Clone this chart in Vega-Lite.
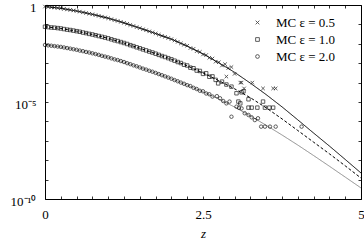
{
"$schema":"https://vega.github.io/schema/vega-lite/v6.json",
"width":316,"height":194,
"autosize":{"type":"none"},
"padding":{"left":45,"top":5,"right":3,"bottom":42},
"config":{"view":{"stroke":null},"font":"Liberation Serif",
"axis":{"domainColor":"black","tickColor":"black","labelColor":"black","titleColor":"black","labelFont":"Liberation Serif","titleFont":"Liberation Serif","labelFontSize":13,"titleFontSize":13,"grid":false,"tickSize":-3,"domainWidth":1,"tickWidth":0.8}},
"datasets":{
"curves":[
{"e":"0.5","z":0,"p":0.8318},{"e":"0.5","z":0.25,"p":0.6761},{"e":"0.5","z":0.5,"p":0.4898},{"e":"0.5","z":0.75,"p":0.3311},{"e":"0.5","z":1,"p":0.2089},{"e":"0.5","z":1.25,"p":0.1202},{"e":"0.5","z":1.5,"p":0.06457},{"e":"0.5","z":1.75,"p":0.03388},{"e":"0.5","z":2,"p":0.01738},{"e":"0.5","z":2.25,"p":0.007586},{"e":"0.5","z":2.5,"p":0.00302},{"e":"0.5","z":2.75,"p":0.001047},{"e":"0.5","z":3,"p":3.388e-4},{"e":"0.5","z":3.25,"p":9.333e-5},{"e":"0.5","z":3.5,"p":2.399e-5},{"e":"0.5","z":3.75,"p":5.623e-6},{"e":"0.5","z":4,"p":1.202e-6},{"e":"0.5","z":4.25,"p":2.512e-7},{"e":"0.5","z":4.5,"p":5.37e-8},{"e":"0.5","z":4.75,"p":1.096e-8},{"e":"0.5","z":5,"p":2.188e-9},
{"e":"1.0","z":0,"p":0.07586},{"e":"1.0","z":0.25,"p":0.06166},{"e":"1.0","z":0.5,"p":0.04467},{"e":"1.0","z":0.75,"p":0.0302},{"e":"1.0","z":1,"p":0.01905},{"e":"1.0","z":1.25,"p":0.01096},{"e":"1.0","z":1.5,"p":0.005888},{"e":"1.0","z":1.75,"p":0.00309},{"e":"1.0","z":2,"p":0.001585},{"e":"1.0","z":2.25,"p":7.244e-4},{"e":"1.0","z":2.5,"p":3.162e-4},{"e":"1.0","z":2.75,"p":1.259e-4},{"e":"1.0","z":3,"p":4.786e-5},{"e":"1.0","z":3.25,"p":1.66e-5},{"e":"1.0","z":3.5,"p":5.012e-6},{"e":"1.0","z":3.75,"p":1.349e-6},{"e":"1.0","z":4,"p":3.388e-7},{"e":"1.0","z":4.25,"p":8.511e-8},{"e":"1.0","z":4.5,"p":2.138e-8},{"e":"1.0","z":4.75,"p":5.129e-9},{"e":"1.0","z":5,"p":1.202e-9},
{"e":"2.0","z":0,"p":0.00871},{"e":"2.0","z":0.25,"p":0.006918},{"e":"2.0","z":0.5,"p":0.004898},{"e":"2.0","z":0.75,"p":0.003236},{"e":"2.0","z":1,"p":0.001995},{"e":"2.0","z":1.25,"p":0.001148},{"e":"2.0","z":1.5,"p":6.026e-4},{"e":"2.0","z":1.75,"p":3.162e-4},{"e":"2.0","z":2,"p":1.585e-4},{"e":"2.0","z":2.25,"p":7.413e-5},{"e":"2.0","z":2.5,"p":3.388e-5},{"e":"2.0","z":2.75,"p":1.413e-5},{"e":"2.0","z":3,"p":5.495e-6},{"e":"2.0","z":3.25,"p":1.905e-6},{"e":"2.0","z":3.5,"p":6.31e-7},{"e":"2.0","z":3.75,"p":1.995e-7},{"e":"2.0","z":4,"p":6.026e-8},{"e":"2.0","z":4.25,"p":1.738e-8},{"e":"2.0","z":4.5,"p":4.898e-9},{"e":"2.0","z":4.75,"p":1.349e-9},{"e":"2.0","z":5,"p":3.715e-10}
],
"mc":[
{"s":"MC ε = 0.5","z":0,"p":0.832},{"s":"MC ε = 0.5","z":0.05,"p":0.794},{"s":"MC ε = 0.5","z":0.1,"p":0.759},{"s":"MC ε = 0.5","z":0.15,"p":0.741},{"s":"MC ε = 0.5","z":0.2,"p":0.708},{"s":"MC ε = 0.5","z":0.25,"p":0.676},{"s":"MC ε = 0.5","z":0.3,"p":0.631},{"s":"MC ε = 0.5","z":0.35,"p":0.589},{"s":"MC ε = 0.5","z":0.4,"p":0.562},{"s":"MC ε = 0.5","z":0.45,"p":0.525},{"s":"MC ε = 0.5","z":0.5,"p":0.49},{"s":"MC ε = 0.5","z":0.55,"p":0.457},{"s":"MC ε = 0.5","z":0.6,"p":0.417},{"s":"MC ε = 0.5","z":0.65,"p":0.389},{"s":"MC ε = 0.5","z":0.7,"p":0.355},{"s":"MC ε = 0.5","z":0.75,"p":0.331},{"s":"MC ε = 0.5","z":0.8,"p":0.302},{"s":"MC ε = 0.5","z":0.85,"p":0.275},{"s":"MC ε = 0.5","z":0.9,"p":0.251},{"s":"MC ε = 0.5","z":0.95,"p":0.229},{"s":"MC ε = 0.5","z":1,"p":0.209},{"s":"MC ε = 0.5","z":1.05,"p":0.186},{"s":"MC ε = 0.5","z":1.1,"p":0.166},{"s":"MC ε = 0.5","z":1.15,"p":0.151},{"s":"MC ε = 0.5","z":1.2,"p":0.135},{"s":"MC ε = 0.5","z":1.25,"p":0.12},{"s":"MC ε = 0.5","z":1.3,"p":0.107},{"s":"MC ε = 0.5","z":1.35,"p":0.0933},{"s":"MC ε = 0.5","z":1.4,"p":0.0832},{"s":"MC ε = 0.5","z":1.45,"p":0.0724},{"s":"MC ε = 0.5","z":1.5,"p":0.0646},{"s":"MC ε = 0.5","z":1.55,"p":0.0562},{"s":"MC ε = 0.5","z":1.6,"p":0.0501},{"s":"MC ε = 0.5","z":1.65,"p":0.0437},{"s":"MC ε = 0.5","z":1.7,"p":0.0389},{"s":"MC ε = 0.5","z":1.75,"p":0.0339},{"s":"MC ε = 0.5","z":1.8,"p":0.0295},{"s":"MC ε = 0.5","z":1.85,"p":0.0257},{"s":"MC ε = 0.5","z":1.9,"p":0.0229},{"s":"MC ε = 0.5","z":1.95,"p":0.02},{"s":"MC ε = 0.5","z":2,"p":0.0174},{"s":"MC ε = 0.5","z":2.05,"p":0.0148},{"s":"MC ε = 0.5","z":2.1,"p":0.0126},{"s":"MC ε = 0.5","z":2.15,"p":0.0105},{"s":"MC ε = 0.5","z":2.2,"p":0.00891},{"s":"MC ε = 0.5","z":2.25,"p":0.00794},{"s":"MC ε = 0.5","z":2.3,"p":0.00603},{"s":"MC ε = 0.5","z":2.35,"p":0.0055},{"s":"MC ε = 0.5","z":2.4,"p":0.00417},{"s":"MC ε = 0.5","z":2.45,"p":0.0038},{"s":"MC ε = 0.5","z":2.5,"p":0.00282},{"s":"MC ε = 0.5","z":2.55,"p":0.00263},{"s":"MC ε = 0.5","z":2.6,"p":0.00191},{"s":"MC ε = 0.5","z":2.65,"p":0.00174},{"s":"MC ε = 0.5","z":2.7,"p":0.0012},{"s":"MC ε = 0.5","z":2.75,"p":0.00112},{"s":"MC ε = 0.5","z":2.8,"p":7.59e-4},{"s":"MC ε = 0.5","z":2.85,"p":8.91e-4},{"s":"MC ε = 0.5","z":2.9,"p":5.62e-4},{"s":"MC ε = 0.5","z":2.95,"p":6.31e-4},{"s":"MC ε = 0.5","z":3.0,"p":2.82e-4},{"s":"MC ε = 0.5","z":2.87,"p":2.04e-4},{"s":"MC ε = 0.5","z":3.09,"p":1.0e-4},{"s":"MC ε = 0.5","z":3.11,"p":1.0e-4},{"s":"MC ε = 0.5","z":3.15,"p":5.01e-5},{"s":"MC ε = 0.5","z":3.28,"p":1.0e-4},{"s":"MC ε = 0.5","z":3.45,"p":5.01e-5},{"s":"MC ε = 0.5","z":3.61,"p":5.01e-5},{"s":"MC ε = 0.5","z":3.65,"p":5.01e-5},
{"s":"MC ε = 1.0","z":0,"p":0.0759},{"s":"MC ε = 1.0","z":0.05,"p":0.0724},{"s":"MC ε = 1.0","z":0.1,"p":0.0692},{"s":"MC ε = 1.0","z":0.15,"p":0.0676},{"s":"MC ε = 1.0","z":0.2,"p":0.0646},{"s":"MC ε = 1.0","z":0.25,"p":0.0617},{"s":"MC ε = 1.0","z":0.3,"p":0.0575},{"s":"MC ε = 1.0","z":0.35,"p":0.0537},{"s":"MC ε = 1.0","z":0.4,"p":0.0513},{"s":"MC ε = 1.0","z":0.45,"p":0.0479},{"s":"MC ε = 1.0","z":0.5,"p":0.0447},{"s":"MC ε = 1.0","z":0.55,"p":0.0417},{"s":"MC ε = 1.0","z":0.6,"p":0.038},{"s":"MC ε = 1.0","z":0.65,"p":0.0355},{"s":"MC ε = 1.0","z":0.7,"p":0.0324},{"s":"MC ε = 1.0","z":0.75,"p":0.0302},{"s":"MC ε = 1.0","z":0.8,"p":0.0275},{"s":"MC ε = 1.0","z":0.85,"p":0.0251},{"s":"MC ε = 1.0","z":0.9,"p":0.0229},{"s":"MC ε = 1.0","z":0.95,"p":0.0209},{"s":"MC ε = 1.0","z":1,"p":0.0191},{"s":"MC ε = 1.0","z":1.05,"p":0.017},{"s":"MC ε = 1.0","z":1.1,"p":0.0151},{"s":"MC ε = 1.0","z":1.15,"p":0.0138},{"s":"MC ε = 1.0","z":1.2,"p":0.0123},{"s":"MC ε = 1.0","z":1.25,"p":0.011},{"s":"MC ε = 1.0","z":1.3,"p":0.00977},{"s":"MC ε = 1.0","z":1.35,"p":0.00851},{"s":"MC ε = 1.0","z":1.4,"p":0.00759},{"s":"MC ε = 1.0","z":1.45,"p":0.00661},{"s":"MC ε = 1.0","z":1.5,"p":0.00589},{"s":"MC ε = 1.0","z":1.55,"p":0.00513},{"s":"MC ε = 1.0","z":1.6,"p":0.00457},{"s":"MC ε = 1.0","z":1.65,"p":0.00398},{"s":"MC ε = 1.0","z":1.7,"p":0.00355},{"s":"MC ε = 1.0","z":1.75,"p":0.00309},{"s":"MC ε = 1.0","z":1.8,"p":0.00269},{"s":"MC ε = 1.0","z":1.85,"p":0.00234},{"s":"MC ε = 1.0","z":1.9,"p":0.00209},{"s":"MC ε = 1.0","z":1.95,"p":0.00182},{"s":"MC ε = 1.0","z":2,"p":0.00158},{"s":"MC ε = 1.0","z":2.05,"p":0.00135},{"s":"MC ε = 1.0","z":2.1,"p":0.00115},{"s":"MC ε = 1.0","z":2.15,"p":0.00102},{"s":"MC ε = 1.0","z":2.2,"p":8.32e-4},{"s":"MC ε = 1.0","z":2.25,"p":7.59e-4},{"s":"MC ε = 1.0","z":2.3,"p":5.89e-4},{"s":"MC ε = 1.0","z":2.35,"p":5.5e-4},{"s":"MC ε = 1.0","z":2.4,"p":4.17e-4},{"s":"MC ε = 1.0","z":2.45,"p":3.98e-4},{"s":"MC ε = 1.0","z":2.5,"p":2.82e-4},{"s":"MC ε = 1.0","z":2.55,"p":3.02e-4},{"s":"MC ε = 1.0","z":2.6,"p":2.0e-4},{"s":"MC ε = 1.0","z":2.65,"p":2.09e-4},{"s":"MC ε = 1.0","z":2.7,"p":1.38e-4},{"s":"MC ε = 1.0","z":2.74,"p":9.12e-5},{"s":"MC ε = 1.0","z":2.8,"p":1.12e-4},{"s":"MC ε = 1.0","z":2.87,"p":7.94e-5},{"s":"MC ε = 1.0","z":2.95,"p":6.17e-5},{"s":"MC ε = 1.0","z":3.03,"p":2.82e-5},{"s":"MC ε = 1.0","z":3.11,"p":3.16e-5},{"s":"MC ε = 1.0","z":3.14,"p":3.55e-5},{"s":"MC ε = 1.0","z":3.06,"p":1.05e-5},{"s":"MC ε = 1.0","z":3.09,"p":8.51e-6},{"s":"MC ε = 1.0","z":3.22,"p":1.38e-5},{"s":"MC ε = 1.0","z":3.45,"p":1.05e-5},{"s":"MC ε = 1.0","z":3.22,"p":5.13e-6},{"s":"MC ε = 1.0","z":3.27,"p":5.13e-6},{"s":"MC ε = 1.0","z":3.36,"p":5.13e-6},{"s":"MC ε = 1.0","z":3.48,"p":5.13e-6},{"s":"MC ε = 1.0","z":3.55,"p":5.13e-6},{"s":"MC ε = 1.0","z":3.61,"p":5.13e-6},
{"s":"MC ε = 2.0","z":0,"p":0.00871},{"s":"MC ε = 2.0","z":0.05,"p":0.00832},{"s":"MC ε = 2.0","z":0.1,"p":0.00794},{"s":"MC ε = 2.0","z":0.15,"p":0.00759},{"s":"MC ε = 2.0","z":0.2,"p":0.00724},{"s":"MC ε = 2.0","z":0.25,"p":0.00692},{"s":"MC ε = 2.0","z":0.3,"p":0.00646},{"s":"MC ε = 2.0","z":0.35,"p":0.00603},{"s":"MC ε = 2.0","z":0.4,"p":0.00562},{"s":"MC ε = 2.0","z":0.45,"p":0.00525},{"s":"MC ε = 2.0","z":0.5,"p":0.0049},{"s":"MC ε = 2.0","z":0.55,"p":0.00447},{"s":"MC ε = 2.0","z":0.6,"p":0.00417},{"s":"MC ε = 2.0","z":0.65,"p":0.0038},{"s":"MC ε = 2.0","z":0.7,"p":0.00355},{"s":"MC ε = 2.0","z":0.75,"p":0.00324},{"s":"MC ε = 2.0","z":0.8,"p":0.00295},{"s":"MC ε = 2.0","z":0.85,"p":0.00269},{"s":"MC ε = 2.0","z":0.9,"p":0.0024},{"s":"MC ε = 2.0","z":0.95,"p":0.00219},{"s":"MC ε = 2.0","z":1,"p":0.002},{"s":"MC ε = 2.0","z":1.05,"p":0.00178},{"s":"MC ε = 2.0","z":1.1,"p":0.00158},{"s":"MC ε = 2.0","z":1.15,"p":0.00145},{"s":"MC ε = 2.0","z":1.2,"p":0.00129},{"s":"MC ε = 2.0","z":1.25,"p":0.00115},{"s":"MC ε = 2.0","z":1.3,"p":0.001},{"s":"MC ε = 2.0","z":1.35,"p":8.91e-4},{"s":"MC ε = 2.0","z":1.4,"p":7.76e-4},{"s":"MC ε = 2.0","z":1.45,"p":6.92e-4},{"s":"MC ε = 2.0","z":1.5,"p":6.03e-4},{"s":"MC ε = 2.0","z":1.55,"p":5.25e-4},{"s":"MC ε = 2.0","z":1.6,"p":4.68e-4},{"s":"MC ε = 2.0","z":1.65,"p":4.07e-4},{"s":"MC ε = 2.0","z":1.7,"p":3.63e-4},{"s":"MC ε = 2.0","z":1.75,"p":3.16e-4},{"s":"MC ε = 2.0","z":1.8,"p":2.75e-4},{"s":"MC ε = 2.0","z":1.85,"p":2.4e-4},{"s":"MC ε = 2.0","z":1.9,"p":2.09e-4},{"s":"MC ε = 2.0","z":1.95,"p":1.82e-4},{"s":"MC ε = 2.0","z":2,"p":1.58e-4},{"s":"MC ε = 2.0","z":2.05,"p":1.35e-4},{"s":"MC ε = 2.0","z":2.1,"p":1.17e-4},{"s":"MC ε = 2.0","z":2.15,"p":1.0e-4},{"s":"MC ε = 2.0","z":2.2,"p":8.71e-5},{"s":"MC ε = 2.0","z":2.25,"p":7.41e-5},{"s":"MC ε = 2.0","z":2.3,"p":6.61e-5},{"s":"MC ε = 2.0","z":2.35,"p":5.37e-5},{"s":"MC ε = 2.0","z":2.4,"p":4.68e-5},{"s":"MC ε = 2.0","z":2.45,"p":3.8e-5},{"s":"MC ε = 2.0","z":2.5,"p":3.55e-5},{"s":"MC ε = 2.0","z":2.55,"p":2.75e-5},{"s":"MC ε = 2.0","z":2.6,"p":2.51e-5},{"s":"MC ε = 2.0","z":2.65,"p":1.91e-5},{"s":"MC ε = 2.0","z":2.72,"p":2.0e-5},{"s":"MC ε = 2.0","z":2.77,"p":1.55e-5},{"s":"MC ε = 2.0","z":2.82,"p":1.12e-5},{"s":"MC ε = 2.0","z":2.87,"p":8.51e-6},{"s":"MC ε = 2.0","z":2.92,"p":1.05e-5},{"s":"MC ε = 2.0","z":2.95,"p":1.74e-6},{"s":"MC ε = 2.0","z":3.03,"p":5.75e-6},{"s":"MC ε = 2.0","z":3.07,"p":5.01e-6},{"s":"MC ε = 2.0","z":3.11,"p":4.68e-6},{"s":"MC ε = 2.0","z":3.16,"p":2.63e-6},{"s":"MC ε = 2.0","z":3.22,"p":2.14e-6},{"s":"MC ε = 2.0","z":3.27,"p":1.62e-6},{"s":"MC ε = 2.0","z":3.32,"p":1.17e-6},{"s":"MC ε = 2.0","z":3.37,"p":1.45e-6},{"s":"MC ε = 2.0","z":3.42,"p":5.37e-7},{"s":"MC ε = 2.0","z":3.48,"p":5.37e-7},{"s":"MC ε = 2.0","z":3.56,"p":5.37e-7},{"s":"MC ε = 2.0","z":3.65,"p":5.37e-7},{"s":"MC ε = 2.0","z":4.06,"p":5.37e-7}
]},
"layer":[
{"data":{"name":"curves"},
"mark":{"type":"line","clip":true},
"encoding":{
"x":{"field":"z","type":"quantitative","scale":{"domain":[0,5],"nice":false,"zero":false},
"axis":{"orient":"bottom","title":"z","titleFontStyle":"italic","titleFontWeight":"normal","titlePadding":6,"values":[0,0.25,0.5,0.75,1,1.25,1.5,1.75,2,2.25,2.5,2.75,3,3.25,3.5,3.75,4,4.25,4.5,4.75,5],"labelExpr":"datum.value == 0 ? '0' : datum.value == 2.5 ? '2.5' : datum.value == 5 ? '5' : ''","labelPadding":12,"labelFlush":false,"labelOverlap":false}},
"y":{"field":"p","type":"quantitative","scale":{"type":"log","domain":[1e-10,1],"nice":false},
"axis":{"orient":"left","title":null,"values":[1,0.1,0.01,0.001,1e-4,1e-5,1e-6,1e-7,1e-8,1e-9,1e-10],"labelExpr":"datum.value == 1 ? '1' : datum.value == 1e-5 ? '10⁻⁵' : datum.value == 1e-10 ? '10⁻¹⁰' : ''","labelPadding":12,"labelOffset":2,"labelFlush":false,"labelOverlap":false}},
"color":{"field":"e","type":"nominal","scale":{"domain":["0.5","1.0","2.0"],"range":["#000000","#000000","#8c8c8c"]},"legend":null},
"strokeDash":{"field":"e","type":"nominal","scale":{"domain":["0.5","1.0","2.0"],"range":[[1,0],[3,2],[1,0]]},"legend":null},
"size":{"field":"e","type":"nominal","scale":{"domain":["0.5","1.0","2.0"],"range":[1,1,0.7]},"legend":null}
}},
{"data":{"name":"mc"},
"mark":{"type":"point","filled":false,"color":"black","strokeWidth":0.9,"size":12},
"encoding":{
"x":{"field":"z","type":"quantitative","axis":{"orient":"top","title":null,"labels":false,"values":[0,0.25,0.5,0.75,1,1.25,1.5,1.75,2,2.25,2.5,2.75,3,3.25,3.5,3.75,4,4.25,4.5,4.75,5]}},
"y":{"field":"p","type":"quantitative","axis":{"orient":"right","title":null,"labels":false,"values":[1,0.1,0.01,0.001,1e-4,1e-5,1e-6,1e-7,1e-8,1e-9,1e-10]}},
"shape":{"field":"s","type":"nominal","scale":{"domain":["MC ε = 0.5","MC ε = 1.0","MC ε = 2.0"],"range":["M-1,-1L1,1M-1,1L1,-1","square","circle"]},
"legend":{"orient":"none","legendX":206,"legendY":11,"title":null,"labelFont":"Liberation Serif","labelFontSize":13,"labelColor":"black","symbolSize":14,"symbolStrokeWidth":0.9,"symbolStrokeColor":"black","symbolFillColor":"transparent","rowPadding":3,"labelOffset":12,"padding":0}}
}}
],
"resolve":{"axis":{"x":"independent","y":"independent"}}
}
